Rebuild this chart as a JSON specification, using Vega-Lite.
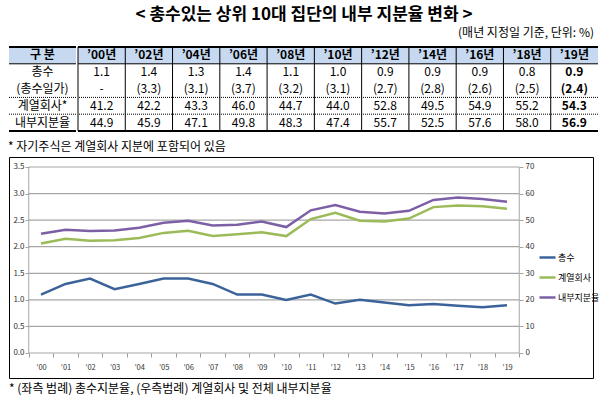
{
  "$schema": "https://vega.github.io/schema/vega-lite/v6.json",
  "padding": {"left": 8, "top": 6, "right": 4, "bottom": 2},
  "background": "white",
  "config": {
    "font": "Noto Sans CJK KR",
    "view": {"stroke": null},
    "title": {"color": "black"},
    "text": {"color": "black"}
  },
  "title": {
    "text": "< 총수있는 상위 10대 집단의 내부 지분율 변화 >",
    "fontSize": 17,
    "fontWeight": "bold",
    "anchor": "middle",
    "offset": 3
  },
  "datasets": {
    "table": [
      {"구분": "’00년", "총수": "1.1", "총수일가": "-", "계열회사": "41.2", "내부지분율": "44.9"},
      {"구분": "’02년", "총수": "1.4", "총수일가": "(3.3)", "계열회사": "42.2", "내부지분율": "45.9"},
      {"구분": "’04년", "총수": "1.3", "총수일가": "(3.1)", "계열회사": "43.3", "내부지분율": "47.1"},
      {"구분": "’06년", "총수": "1.4", "총수일가": "(3.7)", "계열회사": "46.0", "내부지분율": "49.8"},
      {"구분": "’08년", "총수": "1.1", "총수일가": "(3.2)", "계열회사": "44.7", "내부지분율": "48.3"},
      {"구분": "’10년", "총수": "1.0", "총수일가": "(3.1)", "계열회사": "44.0", "내부지분율": "47.4"},
      {"구분": "’12년", "총수": "0.9", "총수일가": "(2.7)", "계열회사": "52.8", "내부지분율": "55.7"},
      {"구분": "’14년", "총수": "0.9", "총수일가": "(2.8)", "계열회사": "49.5", "내부지분율": "52.5"},
      {"구분": "’16년", "총수": "0.9", "총수일가": "(2.6)", "계열회사": "54.9", "내부지분율": "57.6"},
      {"구분": "’18년", "총수": "0.8", "총수일가": "(2.5)", "계열회사": "55.2", "내부지분율": "58.0"},
      {"구분": "’19년", "총수": "0.9", "총수일가": "(2.4)", "계열회사": "54.3", "내부지분율": "56.9"}
    ],
    "chart": [
      {"year": 2000, "총수": 1.1, "계열회사": 41.2, "내부지분율": 44.9},
      {"year": 2001, "총수": 1.3, "계열회사": 43.0, "내부지분율": 46.4},
      {"year": 2002, "총수": 1.4, "계열회사": 42.2, "내부지분율": 45.9},
      {"year": 2003, "총수": 1.2, "계열회사": 42.4, "내부지분율": 46.1},
      {"year": 2004, "총수": 1.3, "계열회사": 43.3, "내부지분율": 47.1},
      {"year": 2005, "총수": 1.4, "계열회사": 45.2, "내부지분율": 49.0},
      {"year": 2006, "총수": 1.4, "계열회사": 46.0, "내부지분율": 49.8},
      {"year": 2007, "총수": 1.3, "계열회사": 44.0, "내부지분율": 48.0},
      {"year": 2008, "총수": 1.1, "계열회사": 44.7, "내부지분율": 48.3},
      {"year": 2009, "총수": 1.1, "계열회사": 45.4, "내부지분율": 49.5},
      {"year": 2010, "총수": 1.0, "계열회사": 44.0, "내부지분율": 47.4},
      {"year": 2011, "총수": 1.1, "계열회사": 50.4, "내부지분율": 53.7},
      {"year": 2012, "총수": 0.93, "계열회사": 52.8, "내부지분율": 55.7},
      {"year": 2013, "총수": 1.0, "계열회사": 49.8, "내부지분율": 53.2},
      {"year": 2014, "총수": 0.95, "계열회사": 49.5, "내부지분율": 52.5},
      {"year": 2015, "총수": 0.9, "계열회사": 50.6, "내부지분율": 53.5},
      {"year": 2016, "총수": 0.92, "계열회사": 54.9, "내부지분율": 57.6},
      {"year": 2017, "총수": 0.89, "계열회사": 55.5, "내부지분율": 58.5},
      {"year": 2018, "총수": 0.86, "계열회사": 55.2, "내부지분율": 58.0},
      {"year": 2019, "총수": 0.9, "계열회사": 54.3, "내부지분율": 56.9}
    ]
  },
  "resolve": {"scale": {"color": "independent"}, "legend": {"color": "independent"}},
  "spacing": 3,
  "vconcat": [
    {
      "spacing": 0,
      "title": {
        "text": "* 자기주식은 계열회사 지분에 포함되어 있음",
        "orient": "bottom",
        "anchor": "start",
        "frame": "bounds",
        "fontSize": 12,
        "fontWeight": "normal",
        "offset": 10
      },
      "hconcat": [
        {
          "width": 67,
          "height": 84,
          "data": {"values": [
            {"row": "구분", "label": "구 분"},
            {"row": "총수", "label": "총수"},
            {"row": "총수일가", "label": "(총수일가)"},
            {"row": "계열회사", "label": "계열회사*"},
            {"row": "내부지분율", "label": "내부지분율"}
          ]},
          "layer": [
            {
              "transform": [{"filter": "datum.row === '구분'"}],
              "mark": {"type": "rect", "color": "#C6D9F1"},
              "encoding": {"y": {"field": "row", "type": "nominal", "scale": {"type": "band", "domain": ["구분", "총수", "총수일가", "계열회사", "내부지분율"], "paddingInner": 0, "paddingOuter": 0}, "axis": null}}
            },
            {
              "transform": [{"filter": "datum.row === '구분'"}],
              "mark": {"type": "text", "fontSize": 12, "fontWeight": "bold"},
              "encoding": {
                "y": {"field": "row", "type": "nominal", "bandPosition": 0.5, "scale": {"type": "band", "domain": ["구분", "총수", "총수일가", "계열회사", "내부지분율"], "paddingInner": 0, "paddingOuter": 0}, "axis": null},
                "text": {"field": "label"}
              }
            },
            {
              "transform": [{"filter": "datum.row !== '구분'"}],
              "mark": {"type": "text", "fontSize": 12},
              "encoding": {
                "y": {"field": "row", "type": "nominal", "bandPosition": 0.5, "scale": {"type": "band", "domain": ["구분", "총수", "총수일가", "계열회사", "내부지분율"], "paddingInner": 0, "paddingOuter": 0}, "axis": null},
                "text": {"field": "label"}
              }
            },
            {
              "transform": [{"filter": "datum.row === '구분'"}],
              "mark": {"type": "rule", "color": "black", "strokeWidth": 2},
              "encoding": {"y": {"field": "row", "type": "nominal", "bandPosition": 0, "scale": {"type": "band", "domain": ["구분", "총수", "총수일가", "계열회사", "내부지분율"], "paddingInner": 0, "paddingOuter": 0}, "axis": null}}
            },
            {
              "transform": [{"filter": "datum.row === '총수'"}],
              "mark": {"type": "rule", "color": "black", "strokeWidth": 1},
              "encoding": {"y": {"field": "row", "type": "nominal", "bandPosition": 0, "scale": {"type": "band", "domain": ["구분", "총수", "총수일가", "계열회사", "내부지분율"], "paddingInner": 0, "paddingOuter": 0}, "axis": null}}
            },
            {
              "transform": [{"filter": "datum.row === '계열회사' || datum.row === '내부지분율'"}],
              "mark": {"type": "rule", "color": "black", "strokeWidth": 1, "strokeDash": [1, 1]},
              "encoding": {"y": {"field": "row", "type": "nominal", "bandPosition": 0, "scale": {"type": "band", "domain": ["구분", "총수", "총수일가", "계열회사", "내부지분율"], "paddingInner": 0, "paddingOuter": 0}, "axis": null}}
            },
            {
              "transform": [{"filter": "datum.row === '내부지분율'"}],
              "mark": {"type": "rule", "color": "black", "strokeWidth": 2},
              "encoding": {"y": {"field": "row", "type": "nominal", "bandPosition": 1, "scale": {"type": "band", "domain": ["구분", "총수", "총수일가", "계열회사", "내부지분율"], "paddingInner": 0, "paddingOuter": 0}, "axis": null}}
            }
          ]
        },
        {
          "width": 520,
          "height": 84,
          "title": {
            "text": "(매년 지정일 기준, 단위: %)",
            "anchor": "end",
            "frame": "group",
            "fontSize": 12,
            "fontWeight": "normal",
            "offset": 6,
            "dx": -4
          },
          "data": {"name": "table"},
          "layer": [
            {
              "data": {"values": [{"row": "구분"}]},
              "mark": {"type": "rect", "color": "#C6D9F1"},
              "encoding": {"y": {"field": "row", "type": "nominal", "scale": {"type": "band", "domain": ["구분", "총수", "총수일가", "계열회사", "내부지분율"], "paddingInner": 0, "paddingOuter": 0}, "axis": null}}
            },
            {
              "mark": {"type": "rule", "color": "black", "strokeWidth": 1},
              "encoding": {"x": {"field": "구분", "type": "ordinal", "bandPosition": 0, "scale": {"type": "band", "paddingInner": 0, "paddingOuter": 0}, "axis": null}}
            },
            {
              "transform": [
                {"fold": ["구분", "총수", "총수일가", "계열회사", "내부지분율"], "as": ["row", "val"]},
                {"filter": "datum.row !== '구분' && datum['구분'] !== '’19년'"}
              ],
              "mark": {"type": "text", "fontSize": 12},
              "encoding": {
                "x": {"field": "구분", "type": "ordinal", "bandPosition": 0.5, "scale": {"type": "band", "paddingInner": 0, "paddingOuter": 0}, "axis": null},
                "y": {"field": "row", "type": "nominal", "bandPosition": 0.5, "scale": {"type": "band", "domain": ["구분", "총수", "총수일가", "계열회사", "내부지분율"], "paddingInner": 0, "paddingOuter": 0}, "axis": null},
                "text": {"field": "val"}
              }
            },
            {
              "transform": [
                {"fold": ["구분", "총수", "총수일가", "계열회사", "내부지분율"], "as": ["row", "val"]},
                {"filter": "datum.row === '구분' || datum['구분'] === '’19년'"}
              ],
              "mark": {"type": "text", "fontSize": 12, "fontWeight": "bold"},
              "encoding": {
                "x": {"field": "구분", "type": "ordinal", "bandPosition": 0.5, "scale": {"type": "band", "paddingInner": 0, "paddingOuter": 0}, "axis": null},
                "y": {"field": "row", "type": "nominal", "bandPosition": 0.5, "scale": {"type": "band", "domain": ["구분", "총수", "총수일가", "계열회사", "내부지분율"], "paddingInner": 0, "paddingOuter": 0}, "axis": null},
                "text": {"field": "val"}
              }
            },
            {
              "data": {"values": [{"row": "구분"}]},
              "mark": {"type": "rule", "color": "black", "strokeWidth": 2},
              "encoding": {"y": {"field": "row", "type": "nominal", "bandPosition": 0, "scale": {"type": "band", "domain": ["구분", "총수", "총수일가", "계열회사", "내부지분율"], "paddingInner": 0, "paddingOuter": 0}, "axis": null}}
            },
            {
              "data": {"values": [{"row": "총수"}]},
              "mark": {"type": "rule", "color": "black", "strokeWidth": 1},
              "encoding": {"y": {"field": "row", "type": "nominal", "bandPosition": 0, "scale": {"type": "band", "domain": ["구분", "총수", "총수일가", "계열회사", "내부지분율"], "paddingInner": 0, "paddingOuter": 0}, "axis": null}}
            },
            {
              "data": {"values": [{"row": "계열회사"}, {"row": "내부지분율"}]},
              "mark": {"type": "rule", "color": "black", "strokeWidth": 1, "strokeDash": [1, 1]},
              "encoding": {"y": {"field": "row", "type": "nominal", "bandPosition": 0, "scale": {"type": "band", "domain": ["구분", "총수", "총수일가", "계열회사", "내부지분율"], "paddingInner": 0, "paddingOuter": 0}, "axis": null}}
            },
            {
              "data": {"values": [{"row": "내부지분율"}]},
              "mark": {"type": "rule", "color": "black", "strokeWidth": 2},
              "encoding": {"y": {"field": "row", "type": "nominal", "bandPosition": 1, "scale": {"type": "band", "domain": ["구분", "총수", "총수일가", "계열회사", "내부지분율"], "paddingInner": 0, "paddingOuter": 0}, "axis": null}}
            }
          ]
        }
      ]
    },
    {
      "width": 585,
      "height": 222,
      "title": {
        "text": "* (좌측 범례) 총수지분율, (우측범례) 계열회사 및 전체 내부지분율",
        "orient": "bottom",
        "anchor": "start",
        "frame": "bounds",
        "fontSize": 12,
        "fontWeight": "normal",
        "offset": 5
      },
      "resolve": {"scale": {"y": "independent"}},
      "layer": [
        {
          "data": {"values": [{"g": 0}, {"g": 0.5}, {"g": 1}, {"g": 1.5}, {"g": 2}, {"g": 2.5}, {"g": 3}, {"g": 3.5}]},
          "mark": {"type": "rule", "color": "#A6A6A6", "strokeWidth": 1.2},
          "encoding": {
            "x": {"datum": 1999.5, "type": "quantitative", "scale": {"domain": [1998.6953, 2022.5471], "nice": false, "zero": false}, "axis": {"title": null, "values": [2000, 2001, 2002, 2003, 2004, 2005, 2006, 2007, 2008, 2009, 2010, 2011, 2012, 2013, 2014, 2015, 2016, 2017, 2018, 2019, 2020], "labelExpr": "datum.value > 2019 ? '' : '’' + slice(toString(datum.value), 2)", "tickOffset": -12.26, "labelOffset": 12.26, "labelAngle": 0, "offset": -26, "domain": false, "labelFontSize": 7.5, "labelColor": "#333333", "labelPadding": 6, "tickSize": 4, "tickColor": "#999999", "grid": false, "labelOverlap": false}},
            "x2": {"datum": 2019.5},
            "y": {"field": "g", "type": "quantitative", "scale": {"domain": [-0.48926, 3.68816], "nice": false, "zero": false}, "axis": null}
          }
        },
        {
          "data": {"values": [{"e": 1999.5}, {"e": 2019.5}]},
          "mark": {"type": "rule", "color": "#A6A6A6", "strokeWidth": 1},
          "encoding": {
            "x": {"field": "e", "type": "quantitative", "scale": {"domain": [1998.6953, 2022.5471], "nice": false, "zero": false}, "axis": {"title": null, "values": [2000, 2001, 2002, 2003, 2004, 2005, 2006, 2007, 2008, 2009, 2010, 2011, 2012, 2013, 2014, 2015, 2016, 2017, 2018, 2019, 2020], "labelExpr": "datum.value > 2019 ? '' : '’' + slice(toString(datum.value), 2)", "tickOffset": -12.26, "labelOffset": 12.26, "labelAngle": 0, "offset": -26, "domain": false, "labelFontSize": 7.5, "labelColor": "#333333", "labelPadding": 6, "tickSize": 4, "tickColor": "#999999", "grid": false, "labelOverlap": false}},
            "y": {"datum": 0, "type": "quantitative", "scale": {"domain": [-0.48926, 3.68816], "nice": false, "zero": false}, "axis": null},
            "y2": {"datum": 3.5}
          }
        },
        {
          "data": {"name": "chart"},
          "transform": [{"fold": ["총수"], "as": ["series", "v"]}],
          "mark": {"type": "line", "strokeWidth": 2.5},
          "encoding": {
            "x": {
              "field": "year", "type": "quantitative",
              "scale": {"domain": [1998.6953, 2022.5471], "nice": false, "zero": false},
              "axis": {"title": null, "values": [2000, 2001, 2002, 2003, 2004, 2005, 2006, 2007, 2008, 2009, 2010, 2011, 2012, 2013, 2014, 2015, 2016, 2017, 2018, 2019, 2020], "labelExpr": "datum.value > 2019 ? '' : '’' + slice(toString(datum.value), 2)", "tickOffset": -12.26, "labelOffset": 12.26, "labelAngle": 0, "offset": -26, "domain": false, "labelFontSize": 7.5, "labelColor": "#333333", "labelPadding": 6, "tickSize": 4, "tickColor": "#999999", "grid": false, "labelOverlap": false}
            },
            "y": {
              "field": "v", "type": "quantitative",
              "scale": {"domain": [-0.48926, 3.68816], "nice": false, "zero": false},
              "axis": {"orient": "left", "offset": -20, "domain": false, "title": null, "values": [0, 0.5, 1, 1.5, 2, 2.5, 3, 3.5], "format": ".1f", "labelFontSize": 8, "labelColor": "#333333", "labelPadding": 1, "tickSize": 4, "tickColor": "#A6A6A6", "grid": false}
            },
            "color": {
              "field": "series", "type": "nominal",
              "scale": {"domain": ["총수", "계열회사", "내부지분율"], "range": ["#3B639A", "#9BBB59", "#7D5FA5"]},
              "legend": {"orient": "none", "legendX": 529, "legendY": 91, "title": null, "symbolType": "stroke", "symbolStrokeWidth": 2.5, "symbolSize": 256, "labelFontSize": 9, "labelColor": "black", "rowPadding": 5, "padding": 0, "labelOffset": 1}
            }
          }
        },
        {
          "data": {"name": "chart"},
          "transform": [{"fold": ["계열회사", "내부지분율"], "as": ["series", "v"]}],
          "mark": {"type": "line", "strokeWidth": 2.5},
          "encoding": {
            "x": {"field": "year", "type": "quantitative", "scale": {"domain": [1998.6953, 2022.5471], "nice": false, "zero": false}, "axis": {"title": null, "values": [2000, 2001, 2002, 2003, 2004, 2005, 2006, 2007, 2008, 2009, 2010, 2011, 2012, 2013, 2014, 2015, 2016, 2017, 2018, 2019, 2020], "labelExpr": "datum.value > 2019 ? '' : '’' + slice(toString(datum.value), 2)", "tickOffset": -12.26, "labelOffset": 12.26, "labelAngle": 0, "offset": -26, "domain": false, "labelFontSize": 7.5, "labelColor": "#333333", "labelPadding": 6, "tickSize": 4, "tickColor": "#999999", "grid": false, "labelOverlap": false}},
            "y": {
              "field": "v", "type": "quantitative",
              "scale": {"domain": [-9.7852, 73.7632], "nice": false, "zero": false},
              "axis": {"orient": "right", "offset": -75, "domain": false, "title": null, "values": [0, 10, 20, 30, 40, 50, 60, 70], "labelFontSize": 8, "labelColor": "#333333", "labelPadding": 2, "tickSize": 4, "tickColor": "#A6A6A6", "grid": false}
            },
            "color": {"field": "series", "type": "nominal"}
          }
        },
        {
          "data": {"values": [{"side": "top", "h": 3.67876}, {"side": "bottom", "h": -0.47986}]},
          "mark": {"type": "rule", "color": "black", "strokeWidth": 1, "clip": false},
          "encoding": {
            "x": {"datum": 1998.7157, "type": "quantitative", "scale": {"domain": [1998.6953, 2022.5471], "nice": false, "zero": false}, "axis": {"title": null, "values": [2000, 2001, 2002, 2003, 2004, 2005, 2006, 2007, 2008, 2009, 2010, 2011, 2012, 2013, 2014, 2015, 2016, 2017, 2018, 2019, 2020], "labelExpr": "datum.value > 2019 ? '' : '’' + slice(toString(datum.value), 2)", "tickOffset": -12.26, "labelOffset": 12.26, "labelAngle": 0, "offset": -26, "domain": false, "labelFontSize": 7.5, "labelColor": "#333333", "labelPadding": 6, "tickSize": 4, "tickColor": "#999999", "grid": false, "labelOverlap": false}},
            "x2": {"datum": 2022.5267},
            "y": {"field": "h", "type": "quantitative", "scale": {"domain": [-0.48926, 3.68816], "nice": false, "zero": false}, "axis": null}
          }
        },
        {
          "data": {"values": [{"side": "left", "w": 1998.7157}, {"side": "right", "w": 2022.5267}]},
          "mark": {"type": "rule", "color": "black", "strokeWidth": 1, "clip": false},
          "encoding": {
            "x": {"field": "w", "type": "quantitative", "scale": {"domain": [1998.6953, 2022.5471], "nice": false, "zero": false}, "axis": {"title": null, "values": [2000, 2001, 2002, 2003, 2004, 2005, 2006, 2007, 2008, 2009, 2010, 2011, 2012, 2013, 2014, 2015, 2016, 2017, 2018, 2019, 2020], "labelExpr": "datum.value > 2019 ? '' : '’' + slice(toString(datum.value), 2)", "tickOffset": -12.26, "labelOffset": 12.26, "labelAngle": 0, "offset": -26, "domain": false, "labelFontSize": 7.5, "labelColor": "#333333", "labelPadding": 6, "tickSize": 4, "tickColor": "#999999", "grid": false, "labelOverlap": false}},
            "y": {"datum": -0.47986, "type": "quantitative", "scale": {"domain": [-0.48926, 3.68816], "nice": false, "zero": false}, "axis": null},
            "y2": {"datum": 3.67876}
          }
        }
      ]
    }
  ]
}
